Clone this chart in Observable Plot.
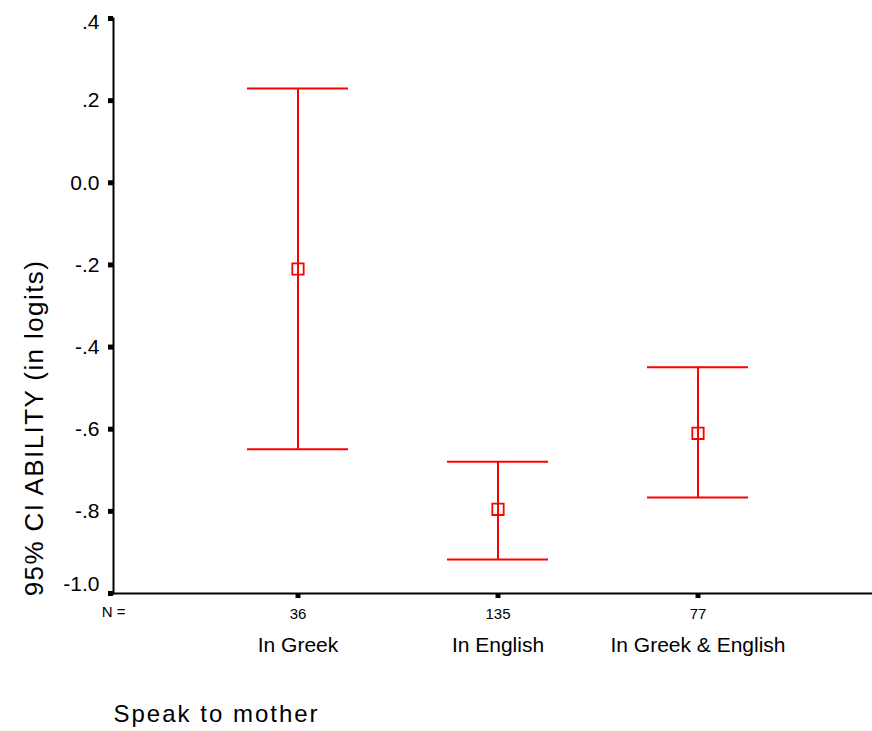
<!DOCTYPE html>
<html>
<head>
<meta charset="utf-8">
<script src="https://cdn.jsdelivr.net/npm/d3@7"></script>
<script src="https://cdn.jsdelivr.net/npm/@observablehq/plot@0.6"></script>
<style>
  html, body { margin: 0; padding: 0; background: #fff; }
  #chart svg { display: block; font-family: Arial, "Liberation Sans", sans-serif; }
</style>
</head>
<body>
<div id="chart"></div>
<script>
const categories = ["In Greek", "In English", "In Greek & English"];
const nLabels = ["36", "135", "77"];
const means = [-0.21, -0.795, -0.61];
const lower = [-0.649, -0.917, -0.766];
const upper = [0.2295, -0.679, -0.449];
const yTicks = [0.4, 0.2, 0, -0.2, -0.4, -0.6, -0.8, -1.0];
const yTickLabels = [".4", ".2", "0.0", "-.2", "-.4", "-.6", "-.8", "-1.0"];
const xTitle = "Speak to mother";
const yTitle = "95% CI ABILITY (in logits)";

const data = categories.map((c, i) => ({cat: c, n: nLabels[i], mean: means[i], lo: lower[i], hi: upper[i]}));
const red = "#ff0000";
const fmtY = (d) => yTickLabels[yTicks.findIndex((t) => Math.abs(t - d) < 1e-9)];
const labelAxis = (ticks, dy) => Plot.axisY({ticks, tickFormat: fmtY, tickSize: 0, tickPadding: 14, fontSize: 21, dy, label: null});

const svg = Plot.plot({
  width: 872,
  height: 731,
  marginTop: 18,
  marginBottom: 138,
  marginLeft: 113,
  marginRight: 0,
  style: {fontFamily: "Arial, 'Liberation Sans', sans-serif", color: "#000", background: "#fff"},
  x: {type: "band", domain: categories, paddingInner: 0.495, paddingOuter: 0.645, align: 0.52},
  y: {domain: [-1, 0.4]},
  marks: [
    Plot.frame({anchor: "left", stroke: "#000", strokeWidth: 2}),
    Plot.ruleY([-1], {stroke: "#000", strokeWidth: 2}),
    Plot.axisY({ticks: yTicks, tickFormat: () => "", tickSize: 5, strokeWidth: 5, label: null}),
    labelAxis(yTicks.slice(1, -1), 0),
    labelAxis(yTicks.slice(0, 1), 4),
    labelAxis(yTicks.slice(-1), -9),
    Plot.axisX({tickSize: 5, strokeWidth: 5, tickPadding: 10, fontSize: 15, tickFormat: (d, i) => nLabels[i], label: null}),
    Plot.axisX({tickSize: 0, tickPadding: 44, fontSize: 21, label: null}),
    Plot.text(["N ="], {frameAnchor: "bottom-left", dy: 19, lineAnchor: "middle", fontSize: 15, textAnchor: "middle", fill: "#000"}),
    Plot.text([xTitle], {frameAnchor: "bottom-left", dy: 121, lineAnchor: "middle", fontSize: 24, textAnchor: "start", fill: "#000"}),
    Plot.text([yTitle], {frameAnchor: "left", dx: -79, dy: 122, rotate: -90, fontSize: 26, textAnchor: "middle", fill: "#000"}),
    Plot.ruleX(data, {x: "cat", y1: "lo", y2: "hi", stroke: red, strokeWidth: 2}),
    Plot.tickY(data, {x: "cat", y: "hi", stroke: red, strokeWidth: 2}),
    Plot.tickY(data, {x: "cat", y: "lo", stroke: red, strokeWidth: 2}),
    Plot.dot(data, {x: "cat", y: "mean", symbol: "square", r: 6.4, stroke: red, fill: "none", strokeWidth: 1.8})
  ]
});

d3.select(svg).selectAll("text").each(function() {
  const t = this.textContent;
  if (t === xTitle) this.setAttribute("letter-spacing", "2px");
  if (t === yTitle) this.setAttribute("letter-spacing", "1.4px");
});

document.getElementById("chart").appendChild(svg);
</script>
</body>
</html>
